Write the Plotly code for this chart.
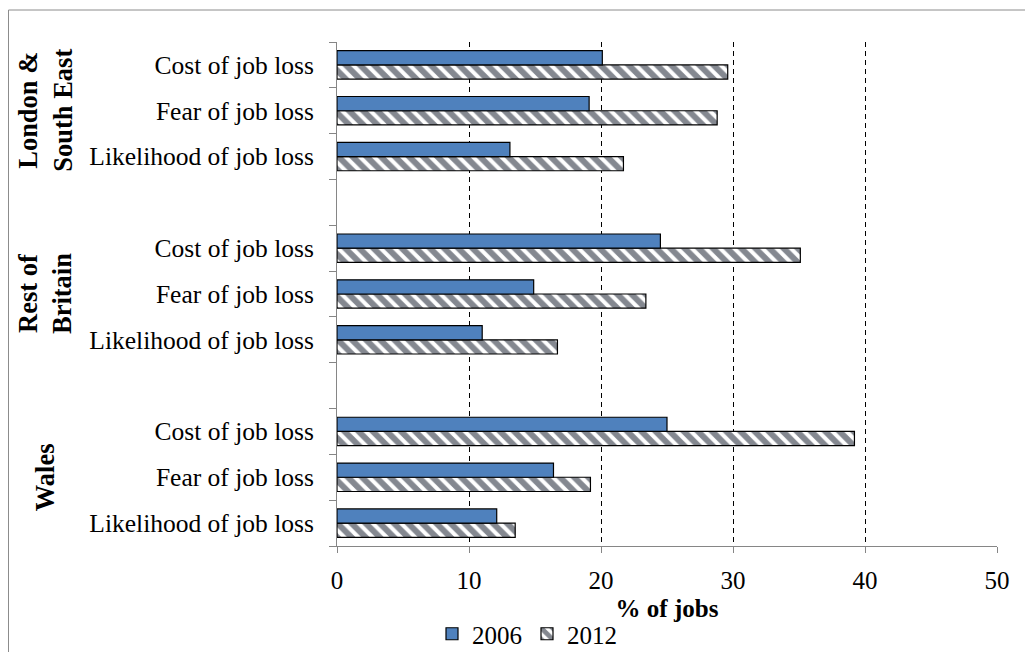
import plotly.graph_objects as go

# Data (bottom-to-top order as drawn)
groups = ["Wales", "Rest of<br>Britain", "London &<br>South East"]
measures = ["Likelihood of job loss", "Fear of job loss", "Cost of job loss"]
values_2006 = {
    "Wales": [12.1, 16.4, 25.0],
    "Rest of<br>Britain": [11.0, 14.9, 24.5],
    "London &<br>South East": [13.1, 19.1, 20.1],
}
values_2012 = {
    "Wales": [13.5, 19.2, 39.2],
    "Rest of<br>Britain": [16.7, 23.4, 35.1],
    "London &<br>South East": [21.7, 28.8, 29.6],
}
x_ticks = [0, 10, 20, 30, 40, 50]

FONT = "Liberation Serif, Times New Roman, serif"
GRAY = "#868686"

# the page body has an 8px margin; work in page pixels and subtract it
OFF = 8
W, H = 1033 - OFF, 652 - OFF
PL, PR, PT, PB = 337 - OFF, 997 - OFF, 42 - OFF, 546 - OFF  # plot box in figure px
PW, PH = PR - PL, PB - PT

def px_x(page_x):
    return (page_x - OFF - PL) / PW

def px_y(page_y):
    return (PB - (page_y - OFF)) / PH

# category positions: 3 measures per group plus one blank slot between groups
ypos, ylab, x06, x12 = [], [], [], []
for gi, g in enumerate(groups):
    for mi, m in enumerate(measures):
        ypos.append(gi * 4 + mi)
        ylab.append(m)
        x06.append(values_2006[g][mi])
        x12.append(values_2012[g][mi])
n_slots = len(groups) * 4 - 1

fig = go.Figure()
fig.add_trace(go.Bar(
    name="2012", y=ypos, x=x12, orientation="h", legendrank=2,
    marker=dict(color="white", line=dict(color="black", width=1.2),
                pattern=dict(shape="\\", fgcolor="#0a1222", bgcolor="white",
                             size=10, solidity=0.6)),
))
fig.add_trace(go.Bar(
    name="2006", y=ypos, x=x06, orientation="h", legendrank=1,
    marker=dict(color="#4F81BD", line=dict(color="black", width=1.2)),
))

for gi, g in enumerate(groups):
    fig.add_annotation(
        text="<b>" + g + "</b>", textangle=-90, xref="paper", yref="y",
        x=px_x(45), y=gi * 4 + 1, xanchor="center", yanchor="middle",
        showarrow=False, font=dict(family=FONT, size=26.5, color="black"),
    )

# chart-area border (left and top edges visible)
fig.add_shape(type="rect", xref="paper", yref="paper",
              x0=px_x(8.5), x1=1.2, y0=-0.4, y1=px_y(10),
              line=dict(color="#8c8c8c", width=1), fillcolor="rgba(0,0,0,0)",
              layer="below")

fig.update_layout(
    width=W, height=H,
    margin=dict(l=PL, r=W - PR, t=PT, b=H - PB, autoexpand=False),
    paper_bgcolor="white", plot_bgcolor="white",
    barmode="group", bargap=0.38, bargroupgap=0,
    font=dict(family=FONT, size=25, color="black"),
    showlegend=True,
    legend=dict(orientation="h", x=px_x(527), xanchor="center",
                y=px_y(634), yanchor="middle",
                font=dict(family=FONT, size=25, color="black"),
                itemwidth=30, tracegroupgap=0, bgcolor="rgba(0,0,0,0)"),
    xaxis=dict(
        range=[0, 50], tickvals=x_ticks, ticks="outside", ticklen=6,
        tickcolor=GRAY, showline=True, linecolor=GRAY, linewidth=1,
        showgrid=True, gridcolor="black", gridwidth=1.2, griddash="5px,4px",
        zeroline=False, ticklabelstandoff=6,
        tickfont=dict(family=FONT, size=25, color="black"),
        title=dict(text="<b>% of jobs</b>", standoff=6,
                   font=dict(family=FONT, size=25, color="black")),
    ),
    yaxis=dict(
        range=[-0.5, n_slots - 0.5], tickmode="array", tickvals=ypos,
        ticktext=ylab, ticks="", showline=True, linecolor=GRAY, linewidth=1,
        showgrid=False, zeroline=False, ticklabelstandoff=17,
        tickfont=dict(family=FONT, size=25.5, color="black"),
        minor=dict(tickmode="array",
                   tickvals=[i - 0.5 for i in range(n_slots + 1)],
                   ticks="outside", ticklen=7, tickcolor=GRAY, showgrid=False),
    ),
)

fig.write_html("out.html")
